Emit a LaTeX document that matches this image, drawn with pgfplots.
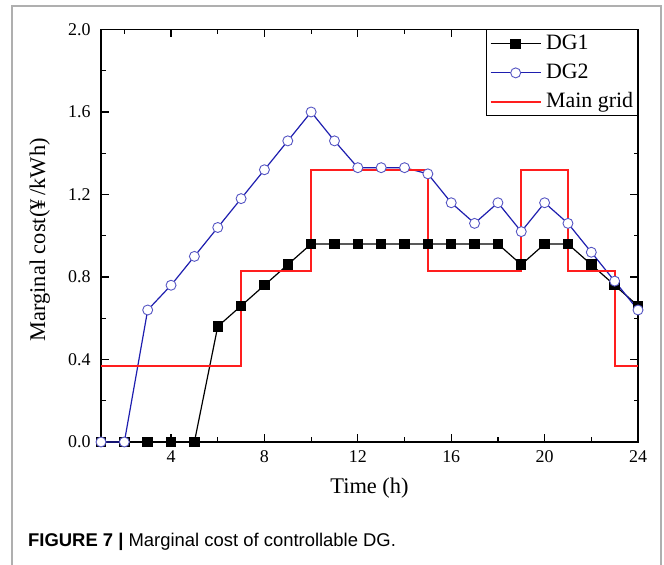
\documentclass[border=0pt]{standalone}
\usepackage{fontspec}
\setmainfont{Liberation Serif}
\newfontfamily\capfont{Liberation Sans}
\usepackage{pgfplots}
\pgfplotsset{compat=1.18}
\definecolor{dgblue}{RGB}{30,30,175}
\definecolor{dgmark}{RGB}{85,85,195}
\definecolor{gridred}{RGB}{255,30,30}
\definecolor{framegray}{RGB}{175,175,175}
\begin{document}
\begin{tikzpicture}[x=1bp,y=1bp]
\useasboundingbox (0,0) rectangle (664,565);
\draw[framegray, line width=2bp] (12,-3) -- (12,559) -- (661,559) -- (661,-3);
\begin{axis}[
  at={(101bp,123bp)}, anchor=south west,
  scale only axis, width=537bp, height=412.5bp,
  xmin=1, xmax=24, ymin=0, ymax=2,
  clip=false,
  axis line style={line width=1.6bp},
  xtick={4,8,...,24},
  minor xtick={2,6,...,22},
  ytick={0,0.4,...,2.01},
  minor ytick={0.2,0.6,...,1.81},
  tick align=inside,
  major tick length=8bp, minor tick length=4.5bp,
  every tick/.style={line width=1.2bp, black},
  /pgf/number format/assume math mode=true,
  yticklabel style={/pgf/number format/fixed, /pgf/number format/fixed zerofill, /pgf/number format/precision=1},
  ticklabel style={font=\fontsize{18}{20}\selectfont},
  every y tick label/.append style={xshift=-7bp},
  every x tick label/.append style={yshift=-5bp},
  xlabel={Time (h)},
  ylabel={Marginal cost(¥\,/kWh)},
  label style={font=\fontsize{22.5}{26}\selectfont},
  xlabel style={at={(axis description cs:0.5,-0.1115)}, anchor=center},
  ylabel style={at={(axis description cs:-0.114,0.49)}, anchor=center},
  legend style={at={(1,1)}, anchor=north east, draw=black, line width=0.8bp,
    font=\fontsize{22}{26}\selectfont, row sep=5bp, column sep=3bp,
    nodes={inner sep=1.5bp, text height=16bp, text depth=5bp}},
  legend cell align=left,
  legend image code/.code={\draw[mark repeat=2,mark phase=2,#1] plot coordinates {(0bp,0bp) (25bp,0bp) (50bp,0bp)};},
]
\addplot[black, line width=1.2bp, mark=square*, mark size=4.6bp, mark options={solid, fill=black}]
coordinates {(1,0) (2,0) (3,0) (4,0) (5,0) (6,0.56) (7,0.66) (8,0.76) (9,0.86) (10,0.96)
 (11,0.96) (12,0.96) (13,0.96) (14,0.96) (15,0.96) (16,0.96) (17,0.96) (18,0.96)
 (19,0.86) (20,0.96) (21,0.96) (22,0.86) (23,0.76) (24,0.66)};
\addlegendentry{DG1}
\addplot[dgblue, line width=1.2bp, mark=*, mark size=5bp, mark options={solid, draw=dgmark, fill=white, line width=0.9bp}]
coordinates {(1,0) (2,0) (3,0.64) (4,0.76) (5,0.90) (6,1.04) (7,1.18) (8,1.32) (9,1.46) (10,1.60)
 (11,1.46) (12,1.33) (13,1.33) (14,1.33) (15,1.30) (16,1.16) (17,1.06) (18,1.16)
 (19,1.02) (20,1.16) (21,1.06) (22,0.92) (23,0.78) (24,0.64)};
\addlegendentry{DG2}
\addplot[gridred, line width=1.8bp, const plot]
coordinates {(1,0.37) (7,0.83) (10,1.32) (15,0.83) (19,1.32) (21,0.83) (23,0.37) (24,0.37)};
\addlegendentry{Main grid}
\end{axis}
\node[anchor=base west, inner sep=0] at (28,18) {\capfont\fontsize{18.5}{22}\selectfont\textbf{FIGURE 7 |} Marginal cost of controllable DG.};
\end{tikzpicture}
\end{document}
